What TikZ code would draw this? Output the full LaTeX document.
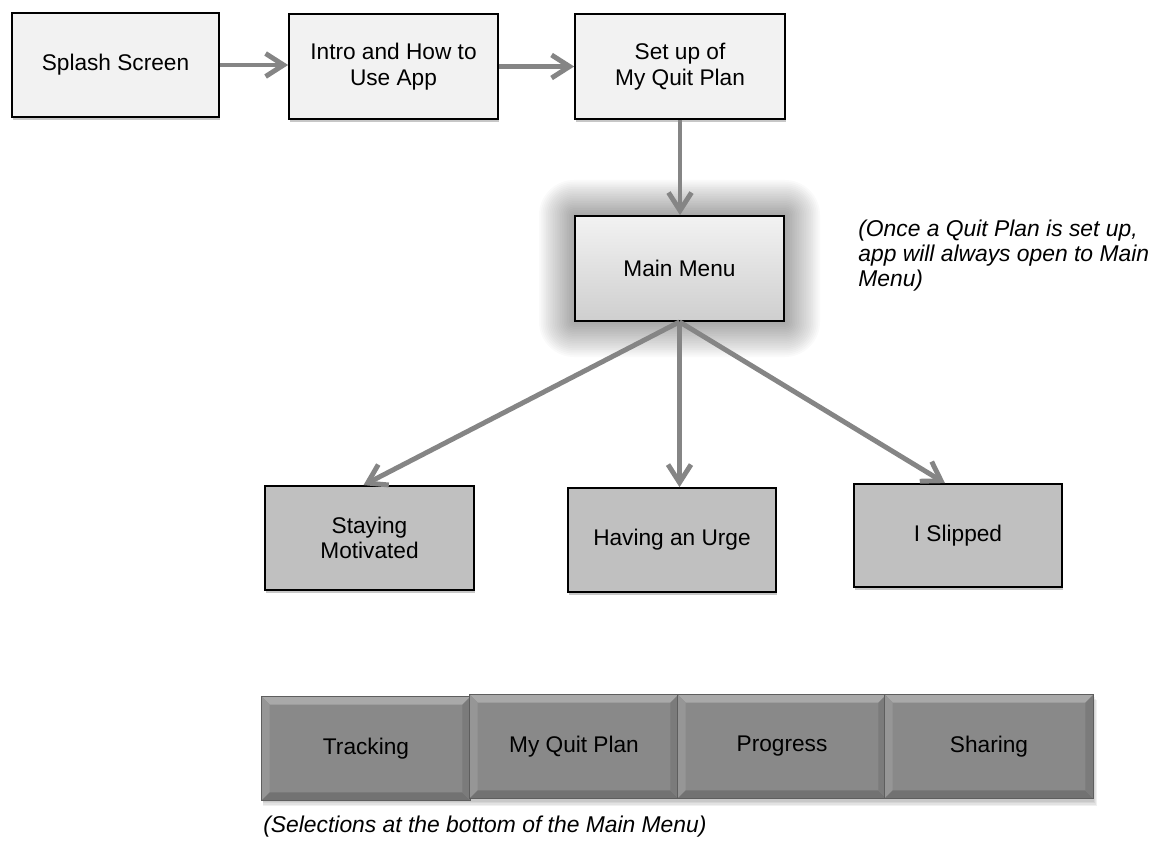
\documentclass[tikz,border=0pt]{standalone}
\usepackage{fontspec}
\setmainfont{Liberation Sans}
\usetikzlibrary{arrows.meta,shadows,backgrounds}
\definecolor{arrgray}{HTML}{858585}
\definecolor{topfill}{HTML}{F2F2F2}
\definecolor{midfill}{HTML}{C0C0C0}
\definecolor{barfill}{HTML}{898989}
\definecolor{bevtop}{HTML}{A9A9A9}
\definecolor{bevleft}{HTML}{969696}
\definecolor{bevbot}{HTML}{727272}
\definecolor{bevright}{HTML}{7B7B7B}
\definecolor{barline}{HTML}{5E5E5E}
\tikzset{
  box/.style={draw=black, line width=1pt, align=center, inner sep=0pt,
    minimum height=2.08cm,
    drop shadow={shadow xshift=0.6pt, shadow yshift=-1.6pt, opacity=0.22, fill=black}},
  topbox/.style={box, fill=topfill, minimum height=2.1cm},
  midbox/.style={box, fill=midfill, minimum width=4.17cm},
  barbox/.style={fill=barfill, inner sep=0pt, minimum width=4.16cm, minimum height=2.06cm},
  arr/.style={draw=arrgray, line width=2.8pt, -{Straight Barb[length=3.6mm,width=4.6mm]}},
  note/.style={font=\fontsize{13}{14}\selectfont\itshape, align=left, inner sep=0pt}
}
\begin{document}
\begin{tikzpicture}[x=0.02cm, y=-0.02cm, font=\fontsize{12.9}{14.6}\selectfont]
\useasboundingbox (0,0) rectangle (1162,841);

% top row
\node[topbox, minimum width=4.14cm, minimum height=2.08cm] (splash) at (115.5,65) {Splash Screen};
\node[topbox, minimum width=4.18cm] (intro) at (393.5,66.5) {Intro and How to\\Use App};
\node[topbox, minimum width=4.2cm] (setup) at (680,66.5) {Set up of\\My Quit Plan};

% main menu
\node[draw=black, line width=1pt, top color=topfill, bottom color=black!19, inner sep=0pt,
      minimum width=4.18cm, minimum height=2.1cm] (main) at (679.5,268.5) {Main Menu};
\begin{scope}[on background layer]
  \foreach \g in {1,...,20}{
    \fill[black, opacity=0.02, rounded corners=\g*1.0pt]
      ([xshift=-\g*1pt, yshift=-\g*1pt]main.south west)
      rectangle ([xshift=\g*1pt, yshift=\g*1pt]main.north east);
  }
\end{scope}

\node[note, anchor=north west] (note1) at (858,220)
  {(Once a Quit Plan is set up,\\app will always open to Main\\Menu)};

% middle row
\node[midbox] (stay) at (369.5,538) {Staying\\Motivated};
\node[midbox] (urge) at (672,540) {Having an Urge};
\node[midbox, minimum height=2.06cm] (slip) at (958,535.5) {I Slipped};

% connectors
\draw[arr] (splash.east) -- (intro.west |- splash.east);
\draw[arr] (intro.east) -- (setup.west |- intro.east);
\draw[arr] (setup.south) -- (setup.south |- main.north);
\draw[arr] (main.south) -- ([xshift=-0.12cm]stay.north);
\draw[arr] (main.south) -- (main.south |- urge.north);
\draw[arr] (main.south) -- ([xshift=-0.26cm]slip.north);

% bottom bar
\node[barbox] (b1) at (366,748.5) {Tracking};
\node[barbox] (b2) at (574,746.5) {My Quit Plan};
\node[barbox] (b3) at (782,746.5) {Progress};
\node[barbox] (b4) at (989,746.5) {Sharing};
\begin{scope}[on background layer]
  \foreach \g in {1,...,4}{
    \fill[black, opacity=0.06] ([xshift=0.5pt,yshift=-\g*0.8pt]b1.south west) rectangle ([xshift=\g*0.5pt,yshift=-\g*0.8pt]b4.north east);
  }
\end{scope}
\foreach \b in {b1,b2,b3,b4}{
  \fill[bevtop] (\b.north west) -- (\b.north east) -- ([xshift=-0.16cm,yshift=-0.16cm]\b.north east) -- ([xshift=0.16cm,yshift=-0.16cm]\b.north west) -- cycle;
  \fill[bevleft] (\b.north west) -- ([xshift=0.16cm,yshift=-0.16cm]\b.north west) -- ([xshift=0.16cm,yshift=0.16cm]\b.south west) -- (\b.south west) -- cycle;
  \fill[bevbot] (\b.south west) -- ([xshift=0.16cm,yshift=0.16cm]\b.south west) -- ([xshift=-0.16cm,yshift=0.16cm]\b.south east) -- (\b.south east) -- cycle;
  \fill[bevright] (\b.north east) -- ([xshift=-0.16cm,yshift=-0.16cm]\b.north east) -- ([xshift=-0.16cm,yshift=0.16cm]\b.south east) -- (\b.south east) -- cycle;
  \draw[barline, line width=0.6pt] (\b.south west) rectangle (\b.north east);
}

\node[note, anchor=west] (note2) at (263,827) {(Selections at the bottom of the Main Menu)};
\end{tikzpicture}
\end{document}
